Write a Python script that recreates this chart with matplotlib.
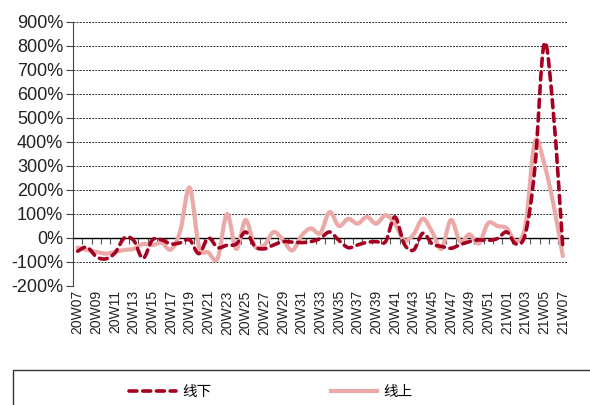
import matplotlib
matplotlib.use('Agg')
import matplotlib.pyplot as plt
from matplotlib.path import Path
from matplotlib.patches import PathPatch, Rectangle
from matplotlib.lines import Line2D
from matplotlib.font_manager import FontProperties
import numpy as np

weeks = ["20W07", "20W08", "20W09", "20W10", "20W11", "20W12", "20W13", "20W14",
         "20W15", "20W16", "20W17", "20W18", "20W19", "20W20", "20W21", "20W22",
         "20W23", "20W24", "20W25", "20W26", "20W27", "20W28", "20W29", "20W30",
         "20W31", "20W32", "20W33", "20W34", "20W35", "20W36", "20W37", "20W38",
         "20W39", "20W40", "20W41", "20W42", "20W43", "20W44", "20W45", "20W46",
         "20W47", "20W48", "20W49", "20W50", "20W51", "20W52", "21W01", "21W02",
         "21W03", "21W04", "21W05", "21W06", "21W07"]

# 线下 (offline), percent
offline = [-55, -38, -78, -87, -62, 0, -10, -85, -8, -8, -25, -20, -8, -65, 0, -40,
           -30, -25, 25, -35, -45, -29, -15, -17, -19, -15, -2, 25, -10, -40, -29, -18,
           -15, -15, 88, -25, -50, 20, -25, -35, -43, -28, -15, -8, -10, -2, 25, -25,
           20, 290, 810, 515, -40]

# 线上 (online), percent
online = [-40, -50, -58, -65, -58, -50, -45, -25, -30, -20, -48, 30, 210, -35, -60, -85,
          100, -45, 75, -35, -30, 25, -8, -52, 10, 40, 20, 108, 50, 80, 60, 88,
          60, 95, 60, -10, 15, 80, 25, -45, 75, -15, 15, -22, 62, 50, 40, -15,
          55, 400, 310, 140, -75]

yticks = list(range(-200, 901, 100))
ytick_labels = [f"{v}%" for v in yticks]

DARK = '#A50021'
PINK = '#EBA9A8'


def smooth_path(xs, ys):
    pts = np.column_stack([xs, ys]).astype(float)
    n = len(pts)
    verts = [tuple(pts[0])]
    codes = [Path.MOVETO]
    for i in range(n - 1):
        p0 = pts[i - 1] if i > 0 else pts[i]
        p1 = pts[i]
        p2 = pts[i + 1]
        p3 = pts[i + 2] if i + 2 < n else pts[i + 1]
        c1 = p1 + (p2 - p0) / 6.0
        c2 = p2 - (p3 - p1) / 6.0
        verts += [tuple(c1), tuple(c2), tuple(p2)]
        codes += [Path.CURVE4] * 3
    return Path(verts, codes)


fig = plt.figure(figsize=(5.9, 4.05), dpi=100)
ax = fig.add_axes([73 / 590, 1 - 286 / 405, (567.5 - 73) / 590, (286 - 22) / 405])

x = np.arange(len(weeks))

ax.add_patch(PathPatch(smooth_path(x, online), fill=False, edgecolor=PINK,
                       lw=3.0, capstyle='round', joinstyle='round', zorder=3))
ax.add_patch(PathPatch(smooth_path(x, offline), fill=False, edgecolor=DARK,
                       lw=2.6, linestyle=(0, (2.2, 1.6)), capstyle='round',
                       joinstyle='round', zorder=4))

ax.set_xlim(-0.5, len(weeks) - 0.5)
ax.set_ylim(-200, 900)

ax.set_yticks(yticks)
ax.set_yticklabels(ytick_labels, fontsize=13, family='Liberation Sans', color='#222')
ax.yaxis.grid(True, linestyle=(0, (2, 1.2)), color='#333', lw=0.7)
ax.set_axisbelow(True)
ax.tick_params(axis='y', direction='out', length=5, width=0.8, color='#444', pad=2)

ax.spines['top'].set_visible(False)
ax.spines['right'].set_visible(False)
ax.spines['left'].set_color('#444')
ax.spines['bottom'].set_position(('data', 0))
ax.spines['bottom'].set_color('black')
ax.spines['bottom'].set_linewidth(1.0)
ax.spines['bottom'].set_zorder(2.5)

ax.set_xticks(np.arange(0.5, len(weeks) - 0.5, 1))
ax.set_xticklabels([])
ax.tick_params(axis='x', direction='out', length=4, width=0.8, color='#555')

sec = ax.secondary_xaxis('bottom')
sec.set_xticks(list(x[::2]))
sec.set_xticklabels(weeks[::2], rotation=90, fontsize=10, family='Liberation Sans', color='#222')
sec.tick_params(length=0, pad=3)
sec.spines['bottom'].set_visible(False)

handles = [Line2D([], [], color=DARK, lw=2.6, linestyle=(0, (2.2, 1.6)), dash_capstyle='round'),
           Line2D([], [], color=PINK, lw=3.0)]
fp = FontProperties(family=['Noto Sans CJK SC', 'DejaVu Sans'], size=10.5)
fig.legend(handles, ['线下', '线上'], ncol=2, loc='center',
           bbox_to_anchor=(271 / 590, 1 - 392 / 405), frameon=False,
           handlelength=3.2, columnspacing=8.2, handletextpad=0.4, prop=fp)

fig.add_artist(Rectangle((13 / 590, -0.1), 1.0, (405 - 370) / 405 + 0.1,
                         transform=fig.transFigure, fill=False, edgecolor='#333', lw=1.0))

fig.savefig('out.png', dpi=100)
